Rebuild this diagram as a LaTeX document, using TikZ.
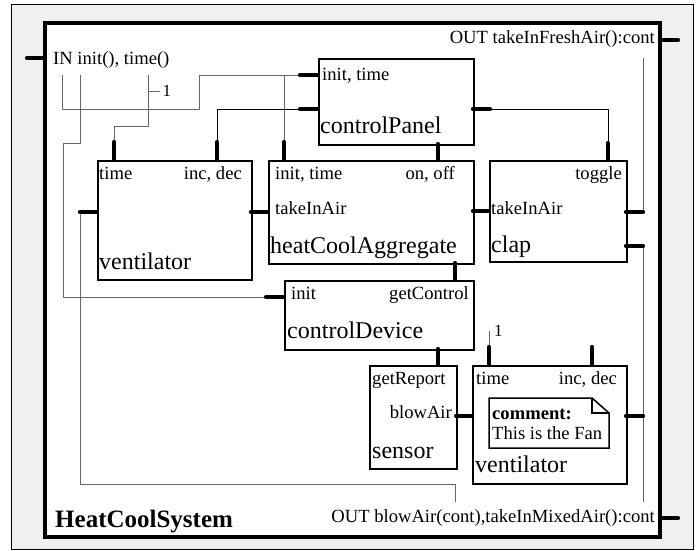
\documentclass[tikz,border=0pt]{standalone}
\usepackage{fontspec}
\setmainfont{Liberation Serif}
\begin{document}
\begin{tikzpicture}[x=1pt,y=-1pt,
  box/.style={draw=black, line width=1.6pt, fill=white, inner sep=0pt, anchor=north west},
  port/.style={line width=4.2pt, line cap=round},
  wire/.style={line width=1pt, draw=black!60},
  bwire/.style={line width=1pt, draw=black},
  sm/.style={font=\fontsize{18.6}{20}\selectfont, inner sep=0pt},
  nm/.style={font=\fontsize{24}{26}\selectfont, inner sep=0pt},
  ttl/.style={font=\fontsize{25}{27}\selectfont\bfseries, inner sep=0pt},
  onelbl/.style={font=\fontsize{17}{18}\selectfont, inner sep=0pt}]
\useasboundingbox (0,0) rectangle (700,550);
% frames
\draw[fill=black!6, line width=1pt] (11,4) rectangle (693,549);
\draw[fill=white, line width=4pt] (45,23) rectangle (660,537);
% boxes
\node[box, minimum width=155pt, minimum height=86pt] (cp) at (318,58) {};
\node[box, minimum width=154pt, minimum height=119pt] (v1) at (97,160) {};
\node[box, minimum width=205pt, minimum height=103pt] (hc) at (268,160) {};
\node[box, minimum width=137pt, minimum height=101pt] (cl) at (489,160) {};
\node[box, minimum width=189pt, minimum height=69pt] (cd) at (284,280) {};
\node[box, minimum width=87pt, minimum height=103pt] (se) at (369,365) {};
\node[box, minimum width=154pt, minimum height=118pt] (v2) at (472,365) {};
% comment note
\draw[line width=1.5pt, fill=white] (489,398) -- (592,398) -- (609,413) -- (609,448) -- (489,448) -- cycle;
\draw[line width=1.5pt] (592,398) -- (592,413) -- (609,413);
\node[sm, anchor=base west, font=\fontsize{18.6}{20}\selectfont\bfseries] (cm1) at (492,419) {comment:};
\node[sm, anchor=base west] (cm2) at (492,439) {This is the Fan};
% texts
\node[sm, anchor=base west] (intxt) at (53,64) {IN init(), time()};
\node[sm, anchor=base east] (out1txt) at (655,43) {OUT takeInFreshAir():cont};
\node[sm, anchor=base east] (out2txt) at (655,522) {OUT blowAir(cont),takeInMixedAir():cont};
\node[ttl, anchor=base west] (title) at (55,527) {HeatCoolSystem};
\node[sm, anchor=base west] (cpa) at (322,80) {init, time};
\node[nm, anchor=base west] (cpn) at (320,133) {controlPanel};
\node[sm, anchor=base west] (v1a) at (99,179) {time};
\node[sm, anchor=base east] (v1b) at (242,179) {inc, dec};
\node[nm, anchor=base west] (v1n) at (99,269) {ventilator};
\node[sm, anchor=base west] (hca) at (275,179) {init, time};
\node[sm, anchor=base east] (hcb) at (455,179) {on, off};
\node[sm, anchor=base west] (hcc) at (275,214) {takeInAir};
\node[nm, anchor=base west] (hcn) at (270,253) {heatCoolAggregate};
\node[sm, anchor=base east] (cla) at (622,179) {toggle};
\node[sm, anchor=base west] (clb) at (491,214) {takeInAir};
\node[nm, anchor=base west] (cln) at (491,252) {clap};
\node[sm, anchor=base west] (cda) at (291,299) {init};
\node[sm, anchor=base east] (cdb) at (469,299) {getControl};
\node[nm, anchor=base west] (cdn) at (287,338) {controlDevice};
\node[sm, anchor=base west] (sea) at (372,384) {getReport};
\node[sm, anchor=base east] (seb) at (452,418) {blowAir};
\node[nm, anchor=base west] (sen) at (372,458) {sensor};
\node[sm, anchor=base west] (v2a) at (476,384) {time};
\node[sm, anchor=base east] (v2b) at (617,384) {inc, dec};
\node[nm, anchor=base west] (v2n) at (475,472) {ventilator};
% port coordinates
\coordinate (in1) at (62,75);
\coordinate (in2) at (80,75);
\coordinate (in3) at (148,75);
\coordinate (j1) at (284,75);
\coordinate (pcpi) at (300,75);   \coordinate (pcpi2) at (318,75);
\coordinate (pcpt) at (300,109);  \coordinate (pcpt2) at (318,109);
\coordinate (pcpo) at (490,109);  \coordinate (pcpo2) at (473,109);
\coordinate (pon) at (438,144);   \coordinate (pon2) at (438,160);
\coordinate (pv1t) at (114,142);  \coordinate (pv1t2) at (114,160);
\coordinate (pv1i) at (217,142);  \coordinate (pv1i2) at (217,160);
\coordinate (pv1l) at (80,212);   \coordinate (pv1l2) at (97,212);
\coordinate (pv1r) at (251,212);  \coordinate (pv1r2) at (268,212);
\coordinate (phci) at (284,142);  \coordinate (phci2) at (284,160);
\coordinate (phcr) at (473,211);  \coordinate (phcr2) at (489,211);
\coordinate (phcb) at (455,263);  \coordinate (phcb2) at (455,280);
\coordinate (pclt) at (608,143);  \coordinate (pclt2) at (608,160);
\coordinate (pclr) at (643,212);  \coordinate (pclr2) at (626,212);
\coordinate (pcls) at (643,246);  \coordinate (pcls2) at (626,246);
\coordinate (pcdi) at (266,297);  \coordinate (pcdi2) at (284,297);
\coordinate (pcdb) at (438,349);  \coordinate (pcdb2) at (438,365);
\coordinate (pser) at (456,416);  \coordinate (pser2) at (472,416);
\coordinate (pv2t) at (489,347);  \coordinate (pv2t2) at (489,365);
\coordinate (pv2i) at (592,347);  \coordinate (pv2i2) at (592,365);
\coordinate (pv2r) at (643,416);  \coordinate (pv2r2) at (626,416);
\coordinate (pin) at (27,58);     \coordinate (pin2) at (45,58);
\coordinate (po1) at (678,40);    \coordinate (po12) at (660,40);
\coordinate (po2) at (678,518);   \coordinate (po22) at (660,518);
\coordinate (out1) at (643,58);
\coordinate (out2) at (643,502);
\coordinate (out3) at (455,502);
\coordinate (one2) at (489,331);
% wires
\draw[wire] (in1) |- (199,109) |- (pcpi);
\draw[wire] (j1) -- (phci);
\draw[wire] (in2) -- (80,143) -| (63,297) -- (pcdi);
\draw[wire] (in3) |- (114,126) -- (pv1t);
\draw[wire] (148,91) -- (160,91) node[onelbl, anchor=west, xshift=2pt] (one1) {1};
\draw[bwire] (pcpt) -| (pv1i);
\draw[bwire] (pcpo) -| (pclt);
\draw[wire] (out1) -- (pclr);
\draw[wire] (pcls) -- (out2);
\draw[wire] (pv1l) |- (455,484) -- (out3);
\draw[wire] (pv2t) -- (one2);
\node[onelbl, anchor=west] (one2t) at (494,331) {1};
% ports
\foreach \a/\b in {pcpi/pcpi2, pcpt/pcpt2, pcpo/pcpo2, pon/pon2, pv1t/pv1t2, pv1i/pv1i2,
  pv1l/pv1l2, pv1r/pv1r2, phci/phci2, phcr/phcr2, phcb/phcb2, pclt/pclt2, pclr/pclr2,
  pcls/pcls2, pcdi/pcdi2, pcdb/pcdb2, pser/pser2, pv2t/pv2t2, pv2i/pv2i2, pv2r/pv2r2,
  pin/pin2, po1/po12, po2/po22}
  \draw[port] (\a) -- (\b);
\end{tikzpicture}
\end{document}
